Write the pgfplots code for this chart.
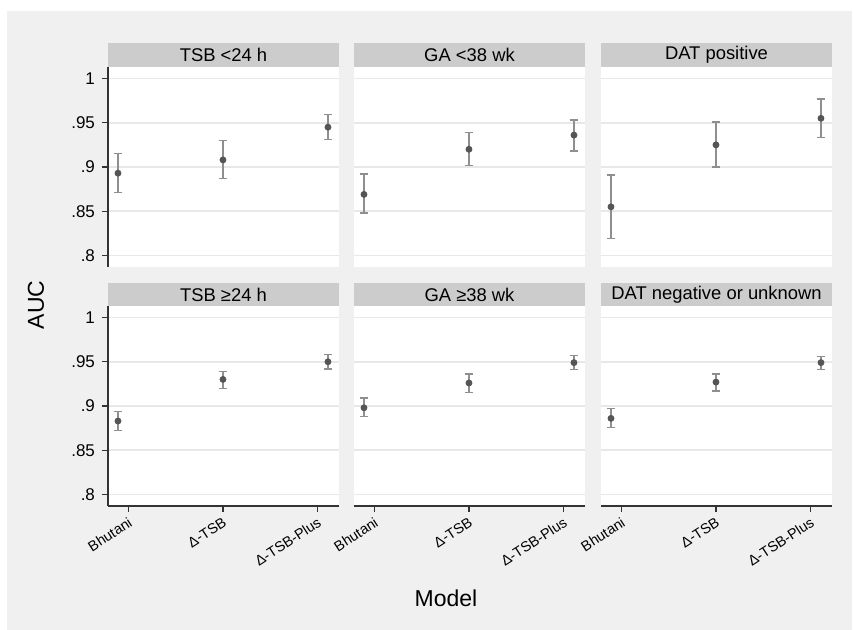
\documentclass[border=0pt]{standalone}
\usepackage{fontspec}
\setmainfont{Liberation Sans}
\usepackage{pgfplots}
\pgfplotsset{compat=1.18}
\definecolor{bg}{HTML}{F0F0F0}
\definecolor{strip}{HTML}{CCCCCC}
\definecolor{gridc}{HTML}{E8E8E8}
\definecolor{errc}{HTML}{8F8F8F}
\definecolor{markc}{HTML}{555555}
\definecolor{axc}{HTML}{333333}
\pgfplotsset{
  panel/.style={
    scale only axis, width=115.5pt, height=100pt,
    xmin=0.905, xmax=3.105, ymin=0.787, ymax=1.013,
    axis background/.style={fill=white},
    axis line style={draw=none},
    ytick={0.8,0.85,0.9,0.95,1}, yticklabels={.8,.85,.9,.95,1},
    xtick={1.1,2,2.9}, xticklabels={Bhutani,Δ-TSB,Δ-TSB-Plus},
    tick align=outside, xtick pos=bottom, ytick pos=left,
    major tick length=3pt,
    tick style={axc, line width=0.6pt},
    ymajorgrids, major grid style={gridc, line width=0.9pt},
    yticklabel style={font=\fontsize{8.5}{10}\selectfont, text=black},
    xticklabel style={font=\fontsize{7.2}{8}\selectfont, rotate=33, anchor=north east, inner sep=1.5pt},
  },
  noy/.style={ytick style={draw=none}, yticklabels={}},
  nox/.style={xtick style={draw=none}, xticklabels={}},
  pts/.style={only marks, mark=*, mark size=1.5pt, mark options={fill=markc, draw=markc},
    error bars/.cd, y dir=both, y explicit,
    error bar style={draw=errc, line width=0.7pt},
    error mark options={draw=errc, mark size=2.2pt, line width=0.7pt, rotate=90}},
}
\begin{document}
\begin{tikzpicture}
\useasboundingbox (0,0) rectangle (426.5pt,315pt);
\fill[white] (0,0) rectangle (426.5pt,315pt);
\fill[bg] (3.5pt,0) rectangle (426pt,309.5pt);
% strips
\foreach \x/\t in {54/{TSB <24 h}, 177/{GA <38 wk}, 300.5/{DAT positive}} {
  \fill[strip] (\x pt,281.5pt) rectangle ++(115.5pt,12pt);
  \node[font=\fontsize{9.2}{11}\selectfont, inner sep=0pt] at (\x pt+57.75pt,287.5pt) {\t};
}
\foreach \x/\t in {54/{TSB ≥24 h}, 177/{GA ≥38 wk}, 300.5/{DAT negative or unknown}} {
  \fill[strip] (\x pt,162pt) rectangle ++(115.5pt,11.5pt);
  \node[font=\fontsize{9.2}{11}\selectfont, inner sep=0pt] at (\x pt+57.75pt,167.75pt) {\t};
}
% Row 1
\begin{axis}[panel, nox, at={(54pt,181.5pt)}, anchor=south west]
\addplot[pts] coordinates {(1,0.893) += (0,0.022) -= (0,0.022) (2,0.908) += (0,0.022) -= (0,0.021) (3,0.945) += (0,0.014) -= (0,0.014)};
\end{axis}
\begin{axis}[panel, nox, noy, at={(177pt,181.5pt)}, anchor=south west]
\addplot[pts] coordinates {(1,0.869) += (0,0.023) -= (0,0.021) (2,0.920) += (0,0.019) -= (0,0.018) (3,0.936) += (0,0.017) -= (0,0.018)};
\end{axis}
\begin{axis}[panel, nox, noy, at={(300.5pt,181.5pt)}, anchor=south west]
\addplot[pts] coordinates {(1,0.855) += (0,0.036) -= (0,0.036) (2,0.925) += (0,0.026) -= (0,0.025) (3,0.955) += (0,0.022) -= (0,0.022)};
\end{axis}
% Row 2
\begin{axis}[panel, at={(54pt,62pt)}, anchor=south west]
\addplot[pts] coordinates {(1,0.883) += (0,0.011) -= (0,0.011) (2,0.930) += (0,0.009) -= (0,0.010) (3,0.950) += (0,0.008) -= (0,0.008)};
\end{axis}
\begin{axis}[panel, noy, at={(177pt,62pt)}, anchor=south west]
\addplot[pts] coordinates {(1,0.898) += (0,0.011) -= (0,0.010) (2,0.926) += (0,0.010) -= (0,0.011) (3,0.949) += (0,0.008) -= (0,0.008)};
\end{axis}
\begin{axis}[panel, noy, at={(300.5pt,62pt)}, anchor=south west]
\addplot[pts] coordinates {(1,0.886) += (0,0.011) -= (0,0.010) (2,0.927) += (0,0.009) -= (0,0.010) (3,0.949) += (0,0.007) -= (0,0.008)};
\end{axis}
% axis lines
\draw[axc, line width=0.75pt] (54pt,181.5pt) -- (54pt,281.5pt);
\draw[axc, line width=0.75pt] (54pt,62pt) -- (54pt,162pt);
\foreach \x in {54,177,300.5} \draw[axc, line width=0.75pt] (\x pt,62pt) -- ++(115.5pt,0);
% axis titles
\node[font=\fontsize{11.5}{13}\selectfont, rotate=90] at (18pt,162.5pt) {AUC};
\node[font=\fontsize{11.5}{13}\selectfont] at (223pt,16pt) {Model};
\end{tikzpicture}
\end{document}
